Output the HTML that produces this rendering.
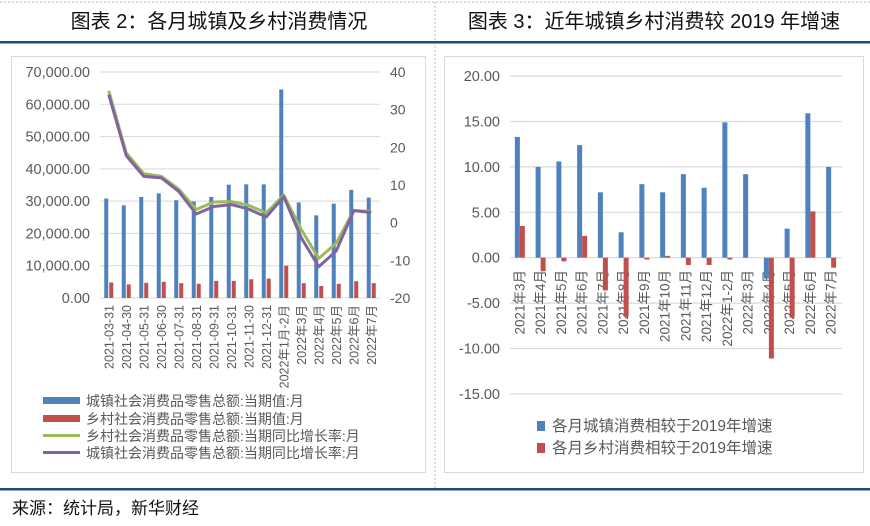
<!DOCTYPE html>
<html><head><meta charset="utf-8"><style>
body{margin:0;background:#fff;}
svg{display:block;font-family:"Liberation Sans","Noto Sans CJK SC",sans-serif;}
</style></head><body>
<svg id="s" width="870" height="526" viewBox="0 0 870 526">
<line x1="0" y1="2" x2="870" y2="2" stroke="#bbb" stroke-dasharray="2,2"/>
<line x1="435" y1="2" x2="435" y2="488" stroke="#bbb" stroke-dasharray="2,2"/>
<text x="219" y="28" font-size="20" text-anchor="middle" fill="#111">图表 2：各月城镇及乡村消费情况</text>
<text x="654" y="28" font-size="20" text-anchor="middle" fill="#111">图表 3：近年城镇乡村消费较 2019 年增速</text>
<rect x="0" y="41" width="870" height="2.5" fill="#1f4e79"/>
<rect x="11.5" y="56.5" width="414" height="416" fill="#fff" stroke="#d9d9d9"/>
<rect x="444.5" y="56.5" width="419" height="416" fill="#fff" stroke="#d9d9d9"/>
<rect x="0" y="488" width="870" height="2.5" fill="#1f4e79"/>
<text x="12" y="514" font-size="17" fill="#111">来源：统计局，新华财经</text>
<g id="L"></g><g id="R"></g>
<g>
<rect x="43" y="397" width="37" height="7" fill="#4f81bd"/>
<text x="86" y="406" font-size="14" fill="#595959">城镇社会消费品零售总额:当期值:月</text>
<rect x="43" y="415" width="37" height="7" fill="#c0504d"/>
<text x="86" y="424" font-size="14" fill="#595959">乡村社会消费品零售总额:当期值:月</text>
<rect x="43" y="434" width="37" height="3" fill="#9bbb59"/>
<text x="86" y="441" font-size="14" fill="#595959">乡村社会消费品零售总额:当期同比增长率:月</text>
<rect x="43" y="451" width="37" height="3" fill="#8064a2"/>
<text x="86" y="458" font-size="14" fill="#595959">城镇社会消费品零售总额:当期同比增长率:月</text>
</g>
<g>
<rect x="537" y="421" width="8" height="10" fill="#4f81bd"/>
<text x="552" y="431" font-size="15.5" fill="#595959">各月城镇消费相较于2019年增速</text>
<rect x="537" y="443" width="8" height="10" fill="#c0504d"/>
<text x="552" y="453" font-size="15.5" fill="#595959">各月乡村消费相较于2019年增速</text>
</g>
</svg>
<script>
const leftCats=["2021-03-31","2021-04-30","2021-05-31","2021-06-30","2021-07-31","2021-08-31","2021-09-31","2021-10-31","2021-11-30","2021-12-31","2022年1月-2月","2022年3月","2022年4月","2022年5月","2022年6月","2022年7月"];
const urbanSales=[30800,28700,31300,32400,30300,29900,31300,35100,35200,35200,64600,29600,25600,29200,33500,31100];
const ruralSales=[4800,4200,4700,5000,4600,4400,5300,5300,5800,6000,10000,4600,3700,4400,5200,4600];
const ruralGrowth=[35,18.5,13,12.3,8.9,3.5,5.5,5.6,4.6,2.6,7.3,-1.8,-9.5,-5.4,3.2,3.0];
const urbanGrowth=[34,17.8,12.3,11.9,8.3,2.3,4.3,4.8,3.6,1.5,6.9,-4,-11.7,-7.5,3.2,2.7];
const leftTicks=["0.00","10,000.00","20,000.00","30,000.00","40,000.00","50,000.00","60,000.00","70,000.00"];
const rightTicksL=["-20","-10","0","10","20","30","40"];
const rightCats=["2021年3月","2021年4月","2021年5月","2021年6月","2021年7月","2021年8月","2021年9月","2021年10月","2021年11月","2021年12月","2022年1-2月","2022年3月","2022年4月","2022年5月","2022年6月","2022年7月"];
const urbanVs2019=[13.3,10,10.6,12.4,7.2,2.8,8.1,7.2,9.2,7.7,14.9,9.2,-2.3,3.2,15.9,10.0];
const ruralVs2019=[3.5,-1.5,-0.4,2.4,-3.6,-6.5,-0.2,0.2,-0.8,-0.8,-0.2,0,-11.1,-6.6,5.1,-1.1];
const rTicks=["-15.00","-10.00","-5.00","0.00","5.00","10.00","15.00","20.00"];
const NS="http://www.w3.org/2000/svg";
function mk(p,t,a){const e=document.createElementNS(NS,t);for(const k in a)e.setAttribute(k,a[k]);p.appendChild(e);return e;}
const L=document.getElementById('L');
const x0=100,x1=380,bw=(x1-x0)/leftCats.length;
const yL=v=>298-v/70000*226;
const yR=v=>298-(v+20)/60*226;
leftTicks.forEach((t,i)=>{const v=i*10000;
 const g=mk(L,'line',{x1:x0,x2:x1,y1:yL(v),y2:yL(v),stroke:'#d9d9d9'});
 
 
 const tx=mk(L,'text',{x:90,y:yL(v)+5,'font-size':14.5,'text-anchor':'end',fill:'#595959'});tx.textContent=t;
 
 
});
rightTicksL.forEach(t=>{const v=+t;
 const tx=mk(L,'text',{x:390,y:yR(v)+5,'font-size':14,fill:'#595959'});tx.textContent=t;
 
 
});
leftCats.forEach((c,i)=>{const cx=x0+bw*(i+0.5);
 const b=mk(L,'rect',{x:cx-4.5,y:yL(urbanSales[i]),width:4,height:298-yL(urbanSales[i]),fill:'#4f81bd'});
 
 
 const r=mk(L,'rect',{x:cx+0.5,y:yL(ruralSales[i]),width:4,height:298-yL(ruralSales[i]),fill:'#c0504d'});
 
 
 const tx=mk(L,'text',{x:0,y:0,'font-size':12.5,'text-anchor':'end',fill:'#595959',transform:`translate(${cx+4.5},305) rotate(-90)`});tx.textContent=c;
 
 
});
[[ruralGrowth,'#9bbb59','rural-growth-line'],[urbanGrowth,'#8064a2','urban-growth-line']].forEach(([d,col,n])=>{
 const p=mk(L,'polyline',{points:d.map((v,i)=>`${x0+bw*(i+0.5)},${yR(v)}`).join(' '),fill:'none',stroke:col,'stroke-width':3,'stroke-linejoin':'round'});
 
 
});
const R=document.getElementById('R');
const rx0=510,rx1=842,rbw=(rx1-rx0)/rightCats.length;
const ry=v=>257.7-v*9.08;
rTicks.forEach(t=>{const v=+t;
 const g=mk(R,'line',{x1:rx0,x2:rx1,y1:ry(v),y2:ry(v),stroke:'#d9d9d9','stroke-width':1.2});
 
 
 const tx=mk(R,'text',{x:500,y:ry(v)+5,'font-size':14.5,'text-anchor':'end',fill:'#595959'});tx.textContent=t;
 
 
});
rightCats.forEach((c,i)=>{const cx=rx0+rbw*(i+0.5);
 const tx=mk(R,'text',{x:0,y:0,'font-size':13.5,'text-anchor':'end',fill:'#595959',transform:`translate(${cx+4},270) rotate(-90)`});tx.textContent=c;
 
 
});
rightCats.forEach((c,i)=>{const cx=rx0+rbw*(i+0.5);
 const u=urbanVs2019[i],r=ruralVs2019[i];
 const b=mk(R,'rect',{x:cx-5.5,y:Math.min(ry(u),ry(0)),width:5,height:Math.abs(ry(u)-ry(0)),fill:'#4f81bd'});
 
 
 const q=mk(R,'rect',{x:cx-0.5,y:Math.min(ry(r),ry(0)),width:5,height:Math.abs(ry(r)-ry(0)),fill:'#c0504d'});
 
 
});
</script>
</body></html>
